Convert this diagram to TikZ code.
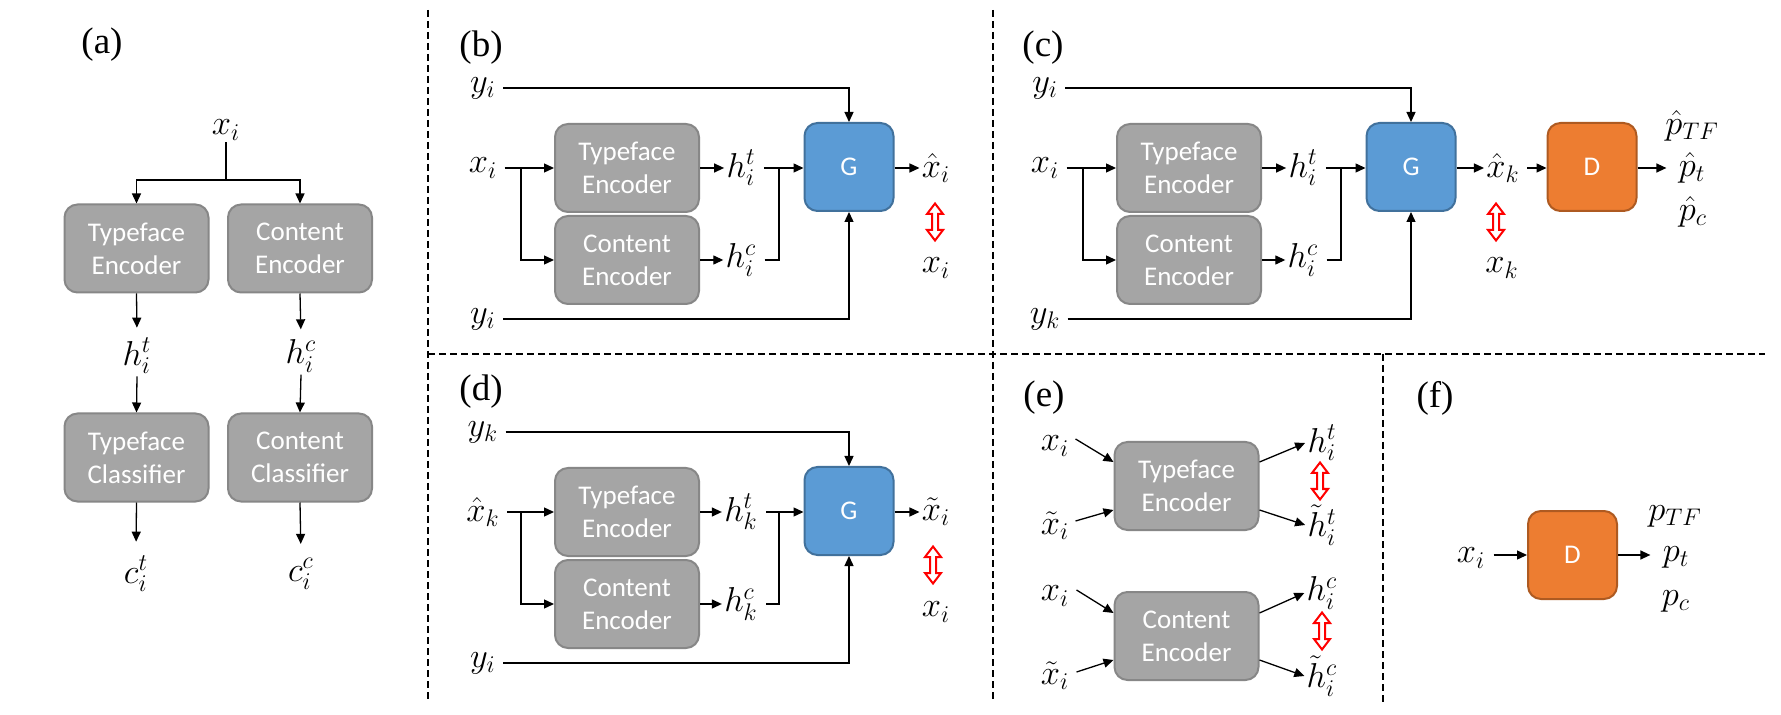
\documentclass[tikz,border=0pt]{standalone}
\usepackage{fontspec}
\newfontfamily\boxfont{Carlito}
\newfontfamily\lblfont{Liberation Serif}
\usetikzlibrary{arrows.meta,calc}
\definecolor{boxgray}{HTML}{A5A5A5}
\definecolor{boxedge}{HTML}{878787}
\definecolor{gfill}{HTML}{5B9BD5}
\definecolor{gedge}{HTML}{41719C}
\definecolor{dfill}{HTML}{ED7D31}
\definecolor{dedge}{HTML}{AE5A21}
\tikzset{
 conn/.style={line width=0.65pt, -{Triangle[length=5pt,width=4.5pt]}},
 plain/.style={line width=0.65pt},
 enc/.style={draw=boxedge, fill=boxgray, line width=1pt, rounded corners=6.5pt,
   minimum width=72pt, minimum height=44pt, inner sep=0pt, text=white, align=center,
   font=\boxfont\fontsize{13.5}{16.5}\selectfont},
 gbox/.style={enc, draw=gedge, fill=gfill, minimum width=44.5pt},
 dbox/.style={enc, draw=dedge, fill=dfill, minimum width=44.5pt},
 mlbl/.style={inner sep=1pt, font=\fontsize{17.28}{20}\selectfont},
 plbl/.style={inner sep=0pt, font=\lblfont\fontsize{18.5}{21}\selectfont},
 sep/.style={dash pattern=on 3.5pt off 2pt, line width=0.7pt},
 redarr/.style={draw=red, line width=1pt, fill=white, line join=miter},
}
\newcommand\redarrow[2]{\draw[redarr, shift={(#1,#2)}] (0,-18.5) -- (8,-8) -- (3,-8) -- (3,8) -- (8,8) -- (0,18.5) -- (-8,8) -- (-3,8) -- (-3,-8) -- (-8,-8) -- cycle;}
\begin{document}
\begin{tikzpicture}[x=0.5pt,y=-0.5pt]
\useasboundingbox (0,0) rectangle (1781,715);
\fill[white] (0,0) rectangle (1781,715);
% separators
\draw[sep] (428,10) -- (428,702);
\draw[sep] (993,10) -- (993,702);
\draw[sep] (428,354) -- (1765,354);
\draw[sep] (1383,354) -- (1383,702);

% ---------- (a)
\node[plbl] (la) at (102,45) {(a)};
\node[mlbl] (xa) at (226,130) {$x_i$};
\coordinate (ja) at (226,180);
\node[enc] (tea) at (136.5,248.5) {Typeface\\Encoder};
\node[enc] (cea) at (300,248.5) {Content\\Encoder};
\node[mlbl] (hta) at (137,356) {$h_i^t$};
\node[mlbl] (hca) at (301,356) {$h_i^c$};
\node[enc] (tca) at (136.5,457.5) {Typeface\\Classifier};
\node[enc] (cca) at (300,457.5) {Content\\Classifier};
\node[mlbl] (cta) at (136,574) {$c_i^t$};
\node[mlbl] (ccl) at (301,574) {$c_i^c$};
\draw[plain] (xa.south) -- (ja);
\draw[conn] (ja) -| (tea.north);
\draw[conn] (ja) -| (cea.north);
\draw[conn, shorten >=4pt] (tea.south) -- (hta.north);
\draw[conn, shorten >=4pt] (cea.south) -- (hca.north);
\draw[conn] (hta.south) -- (tca.north);
\draw[conn] (hca.south) -- (cca.north);
\draw[conn, shorten >=6pt] (tca.south) -- (cta.north);
\draw[conn, shorten >=6pt] (cca.south) -- (ccl.north);

% ---------- (b)
\node[plbl] (lb) at (481,48) {(b)};
\node[mlbl] (yb1) at (483,88) {$y_i$};
\node[mlbl] (xb) at (483,168) {$x_i$};
\node[mlbl] (yb2) at (483,319) {$y_i$};
\node[enc] (tb) at (627,168) {Typeface\\Encoder};
\node[enc] (cb) at (627,260) {Content\\Encoder};
\node[mlbl] (htb) at (741,168) {$h_i^t$};
\node[mlbl] (hcb) at (741,260) {$h_i^c$};
\node[gbox] (gb) at (849,167) {G};
\node[mlbl] (ob) at (936,168) {$\hat{x}_i$};
\redarrow{935}{222}
\node[mlbl] (rb) at (936,268) {$x_i$};
\coordinate (sb) at (521,168);
\coordinate (jb) at (779,168);
\draw[conn, shorten <=2.5pt] (yb1.east) -| (gb.north);
\draw[conn, shorten <=2.5pt] (xb.east) -- (tb.west);
\draw[conn] (sb) |- (cb.west);
\draw[conn] (tb.east) -- (htb.west);
\draw[conn] (cb.east) -- (hcb.west);
\draw[plain, shorten <=3pt] (htb.east) -- (jb);
\draw[plain, shorten <=3pt] (hcb.east) -| (jb);
\draw[conn] (jb) -- (gb.west |- jb);
\draw[conn] (gb.east |- ob.west) -- (ob.west);
\draw[conn, shorten <=2.5pt] (yb2.east) -| (gb.south);

% ---------- (c)
\node[plbl] (lc) at (1043,48) {(c)};
\node[mlbl] (yc1) at (1045,88) {$y_i$};
\node[mlbl] (xc) at (1045,168) {$x_i$};
\node[mlbl] (yc2) at (1045,319) {$y_k$};
\node[enc] (tc) at (1189,168) {Typeface\\Encoder};
\node[enc] (cc) at (1189,260) {Content\\Encoder};
\node[mlbl] (htc) at (1303,168) {$h_i^t$};
\node[mlbl] (hcc) at (1303,260) {$h_i^c$};
\node[gbox] (gc) at (1411,167) {G};
\node[mlbl] (oc) at (1503,168) {$\hat{x}_k$};
\redarrow{1496}{222}
\node[mlbl] (rc) at (1502,268) {$x_k$};
\node[dbox] (dc) at (1592,167) {D};
\node[mlbl] (pc1) at (1692,126) {$\hat{p}_{TF}$};
\node[mlbl] (pc2) at (1692,168) {$\hat{p}_t$};
\node[mlbl] (pc3) at (1693,212) {$\hat{p}_c$};
\coordinate (sc) at (1083,168);
\coordinate (jc) at (1341,168);
\draw[conn, shorten <=2.5pt] (yc1.east) -| (gc.north);
\draw[conn, shorten <=2.5pt] (xc.east) -- (tc.west);
\draw[conn] (sc) |- (cc.west);
\draw[conn] (tc.east) -- (htc.west);
\draw[conn] (cc.east) -- (hcc.west);
\draw[plain, shorten <=3pt] (htc.east) -- (jc);
\draw[plain, shorten <=3pt] (hcc.east) -| (jc);
\draw[conn] (jc) -- (gc.west |- jc);
\draw[conn] (gc.east |- oc.west) -- (oc.west);
\draw[conn, shorten <=2.5pt] (oc.east) -- (dc.west |- oc.east);
\draw[conn, shorten >=5pt] (dc.east |- pc2.west) -- (pc2.west);
\draw[conn, shorten <=2.5pt] (yc2.east) -| (gc.south);

% ---------- (d)
\node[plbl] (ld) at (481,392) {(d)};
\node[mlbl] (yd1) at (483,432) {$y_k$};
\node[mlbl] (xd) at (483,512) {$\hat{x}_k$};
\node[mlbl] (yd2) at (483,663) {$y_i$};
\node[enc] (td) at (627,512) {Typeface\\Encoder};
\node[enc] (cd) at (627,604) {Content\\Encoder};
\node[mlbl] (htd) at (741,512) {$h_k^t$};
\node[mlbl] (hcd) at (741,604) {$h_k^c$};
\node[gbox] (gd) at (849,511) {G};
\node[mlbl] (od) at (936,512) {$\tilde{x}_i$};
\redarrow{933}{565}
\node[mlbl] (rd) at (936,612) {$x_i$};
\coordinate (sd) at (521,512);
\coordinate (jd) at (779,512);
\draw[conn, shorten <=2.5pt] (yd1.east) -| (gd.north);
\draw[conn, shorten <=2.5pt] (xd.east) -- (td.west);
\draw[conn] (sd) |- (cd.west);
\draw[conn] (td.east) -- (htd.west);
\draw[conn] (cd.east) -- (hcd.west);
\draw[plain, shorten <=3pt] (htd.east) -- (jd);
\draw[plain, shorten <=3pt] (hcd.east) -| (jd);
\draw[conn] (jd) -- (gd.west |- jd);
\draw[conn] (gd.east |- od.west) -- (od.west);
\draw[conn, shorten <=2.5pt] (yd2.east) -| (gd.south);

% ---------- (e)
\node[plbl] (le) at (1044,398) {(e)};
\node[enc] (te) at (1186.5,486) {Typeface\\Encoder};
\node[enc] (ce) at (1186.5,636) {Content\\Encoder};
\node[mlbl] (xe1) at (1055,446) {$x_i$};
\node[mlbl] (xe2) at (1055,526) {$\tilde{x}_i$};
\node[mlbl] (xe3) at (1055,596) {$x_i$};
\node[mlbl] (xe4) at (1055,676) {$\tilde{x}_i$};
\node[mlbl] (he1) at (1322,443) {$h_i^t$};
\node[mlbl] (he2) at (1322,525) {$\tilde{h}_i^t$};
\node[mlbl] (he3) at (1322,593) {$h_i^c$};
\node[mlbl] (he4) at (1322,676) {$\tilde{h}_i^c$};
\draw[conn] ([shift={(4,-7)}]xe1.east) -- ([yshift=12pt]te.west);
\draw[conn] ([shift={(4,-5)}]xe2.east) -- ([yshift=-12pt]te.west);
\draw[conn] ([shift={(5,-6)}]xe3.east) -- ([yshift=11.5pt]ce.west);
\draw[conn] ([shift={(5,-4)}]xe4.east) -- ([yshift=-12pt]ce.west);
\draw[conn] ([yshift=12pt]te.east) -- (he1.west);
\draw[conn] ([yshift=-12pt]te.east) -- (he2.west);
\draw[conn] ([yshift=11.5pt]ce.east) -- (he3.west);
\draw[conn] ([yshift=-12pt]ce.east) -- (he4.west);
\redarrow{1320}{481}
\redarrow{1322}{631}

% ---------- (f)
\node[plbl] (lf) at (1435,398) {(f)};
\node[mlbl] (xf) at (1471,558) {$x_i$};
\node[dbox] (df) at (1572.5,555) {D};
\node[mlbl] (pf1) at (1675,516) {$p_{TF}$};
\node[mlbl] (pf2) at (1676,557) {$p_t$};
\node[mlbl] (pf3) at (1676,601) {$p_c$};
\draw[conn, shorten <=3pt] (xf.east |- df.west) -- (df.west);
\draw[conn, shorten >=5pt] (df.east) -- (df.east -| pf2.west);
\end{tikzpicture}
\end{document}
